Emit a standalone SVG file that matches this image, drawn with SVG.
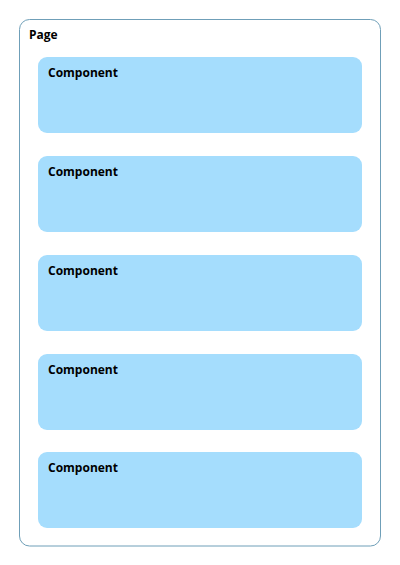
<svg xmlns="http://www.w3.org/2000/svg" width="400" height="565" viewBox="0 0 400 565">
<style>
.page{fill:#ffffff;stroke:#6f9fb8;stroke-width:1}
.comp{fill:#a5ddfd;stroke:none}
.lbl{font-family:"Open Sans","DejaVu Sans",sans-serif;font-weight:bold;font-size:12px;fill:#000}
</style>
<rect width="400" height="565" fill="#ffffff"/>
<g id="page">
<rect class="page" x="19.5" y="19.5" width="361" height="526.5" rx="10" ry="10"/>
<text class="lbl" x="29" y="38.5">Page</text>
</g>
<g id="component1">
<rect class="comp" x="38" y="57" width="324" height="76" rx="9" ry="9"/>
<text class="lbl" x="48" y="76.5">Component</text>
</g>
<g id="component2">
<rect class="comp" x="38" y="156" width="324" height="76" rx="9" ry="9"/>
<text class="lbl" x="48" y="175.5">Component</text>
</g>
<g id="component3">
<rect class="comp" x="38" y="255" width="324" height="76" rx="9" ry="9"/>
<text class="lbl" x="48" y="274.5">Component</text>
</g>
<g id="component4">
<rect class="comp" x="38" y="354" width="324" height="76" rx="9" ry="9"/>
<text class="lbl" x="48" y="373.5">Component</text>
</g>
<g id="component5">
<rect class="comp" x="38" y="452" width="324" height="76" rx="9" ry="9"/>
<text class="lbl" x="48" y="471.5">Component</text>
</g>
<g id="connectors"></g>
</svg>
